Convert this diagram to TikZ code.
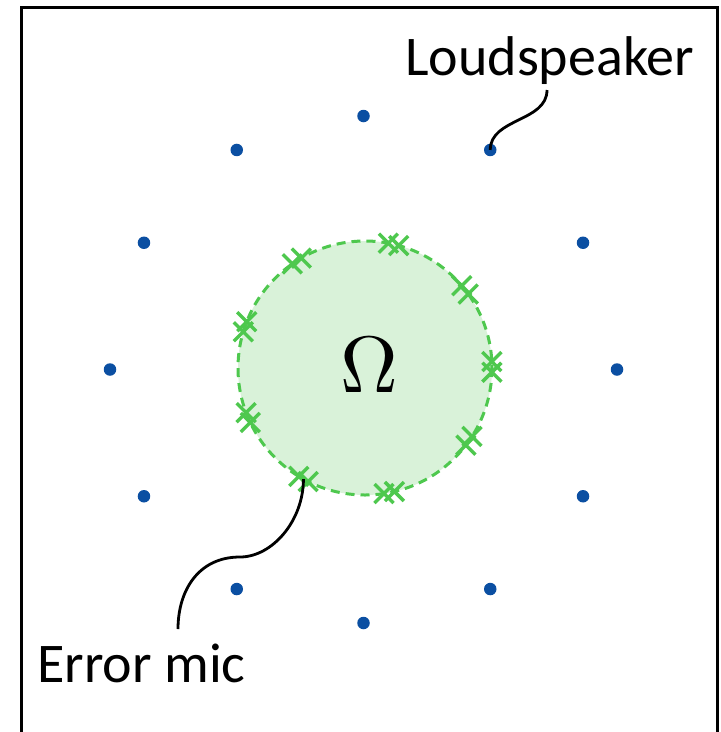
\documentclass[tikz,border=0pt]{standalone}
\usepackage{graphicx}
\usepackage[no-math]{fontspec}
\newfontfamily\labfont{Carlito}
\definecolor{spkblue}{RGB}{11,79,162}
\definecolor{micgreen}{RGB}{78,200,78}
\definecolor{zonefill}{RGB}{217,242,217}
\tikzset{
  spk/.style={circle, fill=spkblue, inner sep=0pt, minimum size=12.5pt},
  zone/.style={draw=micgreen, fill=zonefill, line width=3pt, dash pattern=on 9pt off 6pt},
  miccross/.style={draw=micgreen, line width=3.4pt},
  micx/.pic={\draw[miccross] (-9.5,-9.5)--(9.5,9.5) (-9.5,9.5)--(9.5,-9.5);},
  leader/.style={draw=black, line width=2.8pt},
  lab/.style={inner sep=0pt, anchor=base west, font=\labfont\fontsize{56}{60}\selectfont},
  frame/.style={draw=black, line width=3.5pt}
}
\begin{document}
\begin{tikzpicture}[x=1pt,y=-1pt]
\clip (0,0) rectangle (721,732);
\fill[white] (0,0) rectangle (721,732);
\draw[frame] (21.5,7.5) rectangle (717.5,760);
\coordinate (c) at (365,368);
\coordinate (sc) at (363.5,369.5);
\draw[zone] (c) circle (127);
\node[inner sep=0pt] (omega) at (369.5,365.5) {\scalebox{8}{$\Omega$}};
\foreach \a in {0,30,...,330}
  \node[spk] (s\a) at ([shift={(\a:253.5)}]sc) {};
\foreach \a [count=\i] in {-122.5,-77,-38,-0.5,35,79,119,157,-161} {
  \coordinate (m\i) at ([shift={(\a:127)}]c);
  \pic at ([shift={({\a-2.4}:127)}]c) {micx};
  \pic at ([shift={({\a+2.4}:127)}]c) {micx};
}
\node[lab] (ls) at (405,75) {Loudspeaker};
\node[lab] (em) at (37,682) {Error mic};
\coordinate (lsend) at (547,90);
\coordinate (emmid) at (240,557);
\coordinate (emend) at (178,629);
\draw[leader] (s300.center) .. controls +(0,-32) and +(0,32) .. (lsend);
\draw[leader] (m7) .. controls +(0,42) and +(32,0) .. (emmid)
  .. controls +(-42,0) and +(0,-38) .. (emend);
\end{tikzpicture}
\end{document}
